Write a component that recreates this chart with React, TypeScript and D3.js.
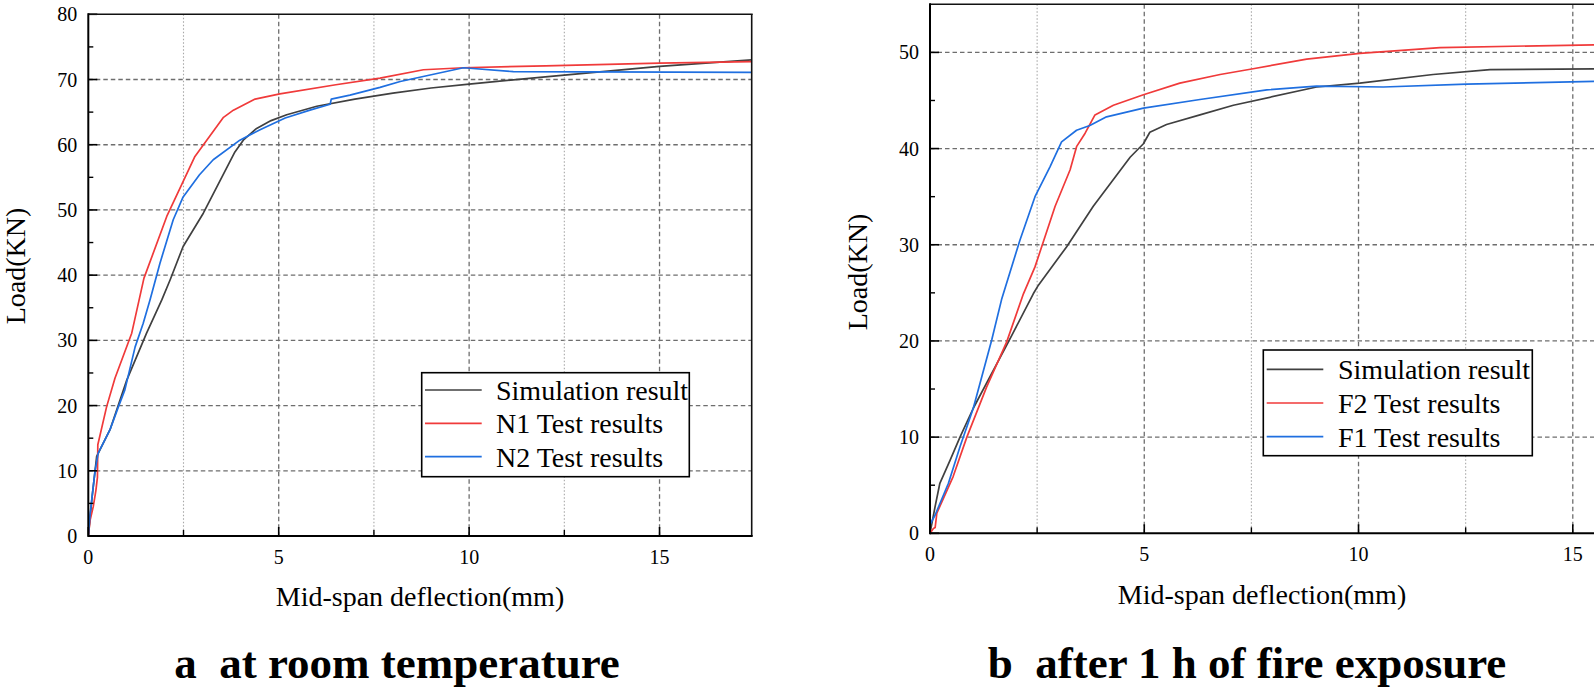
import React from "react";
import * as d3 from "d3";

type P = [number, number];

// ---- Panel a data (room temperature) ----
const simA: P[] = [[0,0],[0.1,6],[0.22,12.2],[0.57,16.3],[1.01,23.9],[1.53,31.1],[1.93,36.2],[2.15,39.3],[2.49,44.4],[3.02,49.5],[3.85,58.9],[4.07,60.7],[4.42,62.5],[4.8,63.7],[5.21,64.6],[6.0,65.9],[7.0,67.0],[8.0,67.9],[9.0,68.7],[10.0,69.3],[12.0,70.4],[15.0,72.0],[17.42,73.0]];
const n1A: P[] = [[0,0],[0.05,2.5],[0.13,4.5],[0.2,7],[0.24,9],[0.25,14],[0.48,19.8],[0.7,24.2],[1.14,31.1],[1.46,39.5],[2.06,49],[2.8,58.2],[3.55,64.2],[3.81,65.3],[4.38,67],[5.03,67.8],[6.5,69.2],[7.66,70.2],[8.8,71.5],[9.85,71.8],[12,72.1],[15,72.5],[17.42,72.75]];
const n2A: P[] = [[0,0],[0.05,3.5],[0.18,10.1],[0.26,12.7],[0.57,16.3],[0.79,19.8],[0.96,22.4],[1.23,29.0],[1.44,32.6],[1.62,36.2],[1.88,41.8],[2.23,48.5],[2.49,52.0],[2.92,55.4],[3.28,57.7],[3.98,60.7],[4.51,62.3],[5.17,64.1],[5.82,65.3],[6.35,66.2],[6.38,67.0],[6.87,67.6],[7.66,68.8],[8.19,69.7],[9.85,71.8],[11.16,71.2],[17.42,71.1]];

// ---- Panel b data (after 1 h fire) ----
const simB: P[] = [[0,0],[0.12,2.8],[0.23,5.2],[0.47,7.6],[0.70,10.0],[1.01,13.0],[1.83,19.9],[2.41,24.9],[2.53,25.8],[3.19,29.8],[3.81,34.0],[4.67,39.1],[4.98,40.5],[5.13,41.7],[5.52,42.5],[6.30,43.5],[7.08,44.5],[9.02,46.4],[10.03,46.8],[11.74,47.7],[13.07,48.2],[15.6,48.3]];
const f2B: P[] = [[0,0],[0.08,0.5],[0.12,0.6],[0.16,2.1],[0.54,5.9],[0.86,10.0],[1.32,15.2],[1.79,19.9],[2.18,24.9],[2.45,27.7],[2.92,34.0],[3.27,37.8],[3.42,40.2],[3.62,41.6],[3.85,43.5],[4.28,44.5],[4.98,45.6],[5.83,46.8],[6.77,47.7],[7.54,48.3],[8.79,49.3],[10.03,49.9],[11.9,50.5],[15.6,50.8]];
const f1B: P[] = [[0,0],[0,0.9],[0.12,1.9],[0.43,5.2],[0.70,9.0],[1.01,13.0],[1.44,20.1],[1.67,24.3],[2.10,30.5],[2.45,35.0],[2.80,38.1],[3.07,40.7],[3.42,41.9],[3.73,42.4],[4.12,43.3],[4.98,44.2],[6.30,45.1],[7.86,46.1],[9.02,46.5],[10.58,46.4],[12.52,46.7],[15.6,47.0]];

const xMajorTicks = [0, 5, 10, 15];
const xMinorTicks = [2.5, 7.5, 12.5];
const yMajorA = [0, 10, 20, 30, 40, 50, 60, 70, 80];
const yMinorA = [5, 15, 25, 35, 45, 55, 65, 75];
const yMajorB = [0, 10, 20, 30, 40, 50];
const yMinorB = [5, 15, 25, 35, 45, 55];

const legendA = ["Simulation result", "N1 Test results", "N2 Test results"];
const legendB = ["Simulation result", "F2 Test results", "F1 Test results"];

const COL_SIM = "#404040";
const COL_RED = "#f03a3a";
const COL_BLUE = "#1f6fe0";
const FONT = "Liberation Serif";

interface PanelProps {
  id: string;
  left: number; top: number; right: number; bottom: number;
  xMax: number; yMax: number;
  yMajor: number[]; yMinor: number[];
  series: P[][];
  legend: string[];
  legendBox: { x: number; y: number; w: number; h: number; rowY: number[]; lineX0: number; lineX1: number; textX: number };
  yTitleX: number; yTitleY: number;
  xTitleY: number;
  title: string; titleX: number; titleY: number;
  drawRight: boolean;
}

function Panel(p: PanelProps) {
  const x = d3.scaleLinear().domain([0, p.xMax]).range([p.left, p.right]);
  const y = d3.scaleLinear().domain([0, p.yMax]).range([p.bottom, p.top]);
  const line = d3.line<P>().x(d => x(d[0])).y(d => y(d[1]));
  const colors = [COL_SIM, COL_RED, COL_BLUE];
  const lb = p.legendBox;
  const ts = { fontFamily: FONT };
  return (
    <g>
      <defs>
        <clipPath id={`clip-${p.id}`}>
          <rect x={p.left} y={p.top} width={p.right - p.left} height={p.bottom - p.top} />
        </clipPath>
      </defs>
      {p.yMajor.filter(v => v > 0 && v < p.yMax).map(v => (
        <line key={`gy${v}`} x1={p.left} x2={p.right} y1={y(v)} y2={y(v)} stroke="#6e6e6e" strokeWidth={1.3} strokeDasharray="4.5,3" />
      ))}
      {xMajorTicks.filter(v => v > 0 && v < p.xMax).map(v => (
        <line key={`gx${v}`} x1={x(v)} x2={x(v)} y1={p.top} y2={p.bottom} stroke="#6e6e6e" strokeWidth={1.3} strokeDasharray="4.5,3" />
      ))}
      {xMinorTicks.filter(v => v < p.xMax).map(v => (
        <line key={`gmx${v}`} x1={x(v)} x2={x(v)} y1={p.top} y2={p.bottom} stroke="#a8a8a8" strokeWidth={1.1} strokeDasharray="1.5,2" />
      ))}
      <g clipPath={`url(#clip-${p.id})`}>
        {p.series.map((s, i) => (
          <path key={i} d={line(s) || ""} fill="none" stroke={colors[i]} strokeWidth={1.7} strokeLinejoin="round" />
        ))}
      </g>
      {xMajorTicks.filter(v => v <= p.xMax).map(v => (
        <g key={`tx${v}`}>
          <line x1={x(v)} x2={x(v)} y1={p.bottom} y2={p.bottom - 9} stroke="#000" strokeWidth={1.6} />
          <text x={x(v)} y={p.bottom + 28} fontSize={20} style={ts} textAnchor="middle">{v}</text>
        </g>
      ))}
      {xMinorTicks.filter(v => v < p.xMax).map(v => (
        <line key={`tmx${v}`} x1={x(v)} x2={x(v)} y1={p.bottom} y2={p.bottom - 6} stroke="#000" strokeWidth={1.4} />
      ))}
      {p.yMajor.map(v => (
        <g key={`ty${v}`}>
          <line x1={p.left} x2={p.left + 9} y1={y(v)} y2={y(v)} stroke="#000" strokeWidth={1.6} />
          <text x={p.left - 11} y={y(v) + 7} fontSize={20} style={ts} textAnchor="end">{v}</text>
        </g>
      ))}
      {p.yMinor.filter(v => v < p.yMax).map(v => (
        <line key={`tmy${v}`} x1={p.left} x2={p.left + 5} y1={y(v)} y2={y(v)} stroke="#000" strokeWidth={1.4} />
      ))}
      <line x1={p.left} x2={p.right + 1} y1={p.top} y2={p.top} stroke="#111" strokeWidth={1.6} />
      {p.drawRight && <line x1={p.right} x2={p.right} y1={p.top} y2={p.bottom} stroke="#111" strokeWidth={1.6} />}
      <line x1={p.left} x2={p.right + 1} y1={p.bottom} y2={p.bottom} stroke="#000" strokeWidth={2} />
      <line x1={p.left} x2={p.left} y1={p.top - 1} y2={p.bottom + 1} stroke="#000" strokeWidth={2} />
      <rect x={lb.x} y={lb.y} width={lb.w} height={lb.h} fill="#fff" stroke="#000" strokeWidth={1.6} />
      {p.legend.map((t, i) => (
        <g key={`lg${i}`}>
          <line x1={lb.lineX0} x2={lb.lineX1} y1={lb.rowY[i]} y2={lb.rowY[i]} stroke={colors[i]} strokeWidth={1.7} />
          <text x={lb.textX} y={lb.rowY[i] + 10} fontSize={28} style={ts}>{t}</text>
        </g>
      ))}
      <text x={(p.left + Math.min(p.right, 1594)) / 2} y={p.xTitleY} fontSize={28} style={ts} textAnchor="middle">Mid-span deflection(mm)</text>
      <text transform={`translate(${p.yTitleX},${p.yTitleY}) rotate(-90)`} fontSize={28} style={ts} textAnchor="middle">Load(KN)</text>
      <text x={p.titleX} y={p.titleY} fontSize={45} fontWeight="bold" style={{ fontFamily: FONT, whiteSpace: "pre" }} textAnchor="middle">{p.title}</text>
    </g>
  );
}

export default function App() {
  return (
    <svg width={1594} height={691} style={{ position: "absolute", left: 0, top: 0, background: "#fff", fontFamily: FONT }}>
      <rect x={0} y={0} width={1594} height={691} fill="#fff" />
      <Panel
        id="a" left={88.3} top={14.3} right={751.7} bottom={536}
        xMax={17.42} yMax={80} yMajor={yMajorA} yMinor={yMinorA}
        series={[simA, n1A, n2A]} legend={legendA}
        legendBox={{ x: 421.7, y: 372.7, w: 267.6, h: 104, rowY: [390, 423.3, 456.7], lineX0: 425, lineX1: 481.7, textX: 496 }}
        yTitleX={25} yTitleY={266} xTitleY={606}
        title={"a  at room temperature"} titleX={397} titleY={678}
        drawRight={true}
      />
      <Panel
        id="b" left={930} top={4.3} right={1595.5} bottom={533.3}
        xMax={15.53} yMax={55} yMajor={yMajorB} yMinor={yMinorB}
        series={[simB, f2B, f1B]} legend={legendB}
        legendBox={{ x: 1263.3, y: 350, w: 269, h: 105.7, rowY: [369.3, 403, 436.7], lineX0: 1266.7, lineX1: 1323.3, textX: 1338 }}
        yTitleX={867} yTitleY={272} xTitleY={604}
        title={"b  after 1 h of fire exposure"} titleX={1247} titleY={678}
        drawRight={false}
      />
    </svg>
  );
}
